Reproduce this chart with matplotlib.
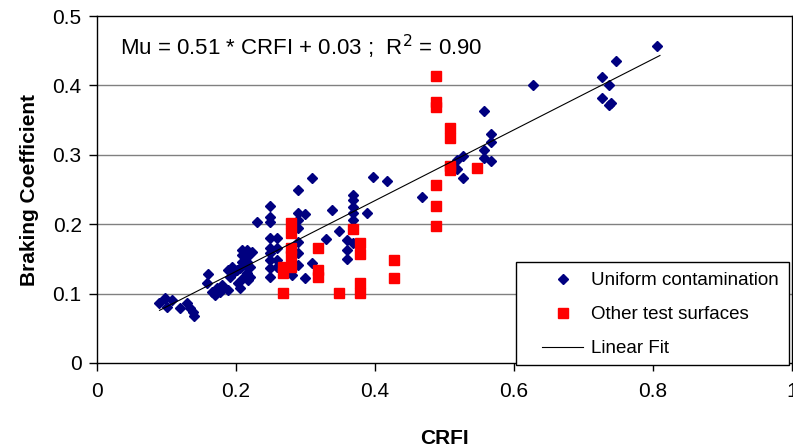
import numpy as np
import matplotlib
matplotlib.use('Agg')
import matplotlib.pyplot as plt
from matplotlib.lines import Line2D
from matplotlib.patches import Rectangle

plt.rcParams['font.family'] = ['Liberation Sans', 'DejaVu Sans']

# Uniform contamination (blue diamonds)
uniform_x = [0.089, 0.098, 0.108, 0.101, 0.119, 0.129, 0.134, 0.138, 0.140,
             0.160, 0.158, 0.165, 0.170, 0.173, 0.180, 0.177, 0.188, 0.191, 0.196,
             0.201, 0.206, 0.203, 0.206, 0.210, 0.216, 0.216, 0.209, 0.216, 0.209,
             0.216, 0.209, 0.216, 0.220, 0.220, 0.217, 0.194, 0.188,
             0.230, 0.249, 0.249, 0.249, 0.249, 0.259, 0.249, 0.259, 0.249, 0.249,
             0.259, 0.249, 0.259, 0.249, 0.223,
             0.289, 0.309, 0.289, 0.299, 0.289, 0.289, 0.289, 0.289, 0.289, 0.281,
             0.299, 0.309, 0.329, 0.338, 0.348, 0.360, 0.360, 0.360,
             0.368, 0.368, 0.368, 0.368, 0.368, 0.368, 0.368, 0.388,
             0.397, 0.417, 0.468,
             0.518, 0.527, 0.518, 0.527, 0.557, 0.567, 0.567, 0.557, 0.557, 0.567,
             0.627, 0.727, 0.747, 0.737, 0.727, 0.737, 0.740, 0.806]
uniform_y = [0.086, 0.094, 0.091, 0.081, 0.079, 0.086, 0.079, 0.073, 0.068,
             0.128, 0.115, 0.102, 0.098, 0.108, 0.112, 0.102, 0.105, 0.124, 0.130,
             0.134, 0.137, 0.115, 0.108, 0.122, 0.130, 0.139, 0.163, 0.163, 0.156,
             0.153, 0.146, 0.146, 0.139, 0.124, 0.120, 0.139, 0.134,
             0.203, 0.226, 0.210, 0.203, 0.180, 0.180, 0.166, 0.166, 0.158, 0.148,
             0.148, 0.137, 0.139, 0.124, 0.160,
             0.249, 0.266, 0.216, 0.215, 0.206, 0.194, 0.174, 0.158, 0.141, 0.127,
             0.122, 0.144, 0.179, 0.220, 0.190, 0.177, 0.163, 0.150,
             0.242, 0.235, 0.225, 0.216, 0.206, 0.196, 0.173, 0.216,
             0.268, 0.262, 0.239,
             0.292, 0.298, 0.280, 0.267, 0.363, 0.330, 0.319, 0.307, 0.295, 0.291,
             0.401, 0.412, 0.435, 0.401, 0.382, 0.372, 0.375, 0.457]

# Other test surfaces (red squares)
other_x = [0.279, 0.279, 0.279, 0.279, 0.279, 0.268, 0.268, 0.268,
           0.318, 0.318, 0.318, 0.348, 0.368, 0.378, 0.378, 0.378, 0.378,
           0.427, 0.427, 0.488, 0.488, 0.488, 0.488, 0.488, 0.488,
           0.508, 0.508, 0.508, 0.508, 0.547]
other_y = [0.202, 0.187, 0.166, 0.154, 0.139, 0.139, 0.130, 0.101,
           0.166, 0.134, 0.124, 0.101, 0.193, 0.173, 0.157, 0.115, 0.101,
           0.148, 0.122, 0.256, 0.226, 0.197, 0.414, 0.376, 0.369,
           0.339, 0.324, 0.284, 0.278, 0.281]

# Linear fit: Mu = 0.51 * CRFI + 0.03
slope, intercept = 0.51, 0.03
fit_x = np.array([0.09, 0.81])
fit_y = slope * fit_x + intercept

W, H = 793, 448
fig = plt.figure(figsize=(W / 100, H / 100), dpi=100)
ax = fig.add_axes([97 / W, 1 - 363 / H, 695 / W, 347 / H])

for yv in [0.1, 0.2, 0.3, 0.4]:
    ax.axhline(yv, color='#808080', linewidth=1, zorder=1)

ax.plot(uniform_x, uniform_y, linestyle='none', marker='D', markersize=5.5,
        color='#000080', zorder=3)
ax.plot(other_x, other_y, linestyle='none', marker='s', markersize=7,
        color='#ff0000', zorder=4)
ax.plot(fit_x, fit_y, color='black', linewidth=0.8, zorder=5)

ax.set_xlim(0, 1)
ax.set_ylim(0, 0.5)
ax.set_xticks([0, 0.2, 0.4, 0.6, 0.8, 1])
ax.set_xticklabels(['0', '0.2', '0.4', '0.6', '0.8', '1'])
ax.set_yticks([0, 0.1, 0.2, 0.3, 0.4, 0.5])
ax.set_yticklabels(['0', '0.1', '0.2', '0.3', '0.4', '0.5'])
ax.tick_params(direction='out', length=6, width=1, labelsize=15)
ax.tick_params(axis='x', pad=8)
ax.tick_params(axis='y', pad=5)
for s in ax.spines.values():
    s.set_linewidth(1)
    s.set_color('black')

ax.set_xlabel('CRFI', fontsize=15, fontweight='bold', labelpad=20)
ax.set_ylabel('Braking Coefficient', fontsize=15, fontweight='bold', labelpad=10)

ax.text(0.033, 0.455, 'Mu = 0.51 * CRFI + 0.03 ;  R$^2$ = 0.90', fontsize=16,
        va='center', ha='left', zorder=6)

# legend box drawn by hand so the entries can sit inside it like the original
box = Rectangle((516 / W, 1 - 365 / H), 273 / W, 103 / H, transform=fig.transFigure,
                facecolor='white', edgecolor='black', linewidth=1, zorder=4)
fig.add_artist(box)

handles = [
    Line2D([], [], linestyle='none', marker='D', markersize=5.5, color='#000080'),
    Line2D([], [], linestyle='none', marker='s', markersize=7, color='#ff0000'),
    Line2D([], [], color='black', linewidth=0.8),
]
labels = ['Uniform contamination', 'Other test surfaces', 'Linear Fit']
leg = fig.legend(handles, labels, loc='upper left', bbox_to_anchor=(542 / W, 1 - 272 / H),
                 fontsize=13.5, frameon=False, borderpad=0, labelspacing=0.9,
                 handlelength=2.2, handletextpad=0.4, borderaxespad=0)
leg.set_zorder(5)

fig.savefig('out.png', dpi=100)
